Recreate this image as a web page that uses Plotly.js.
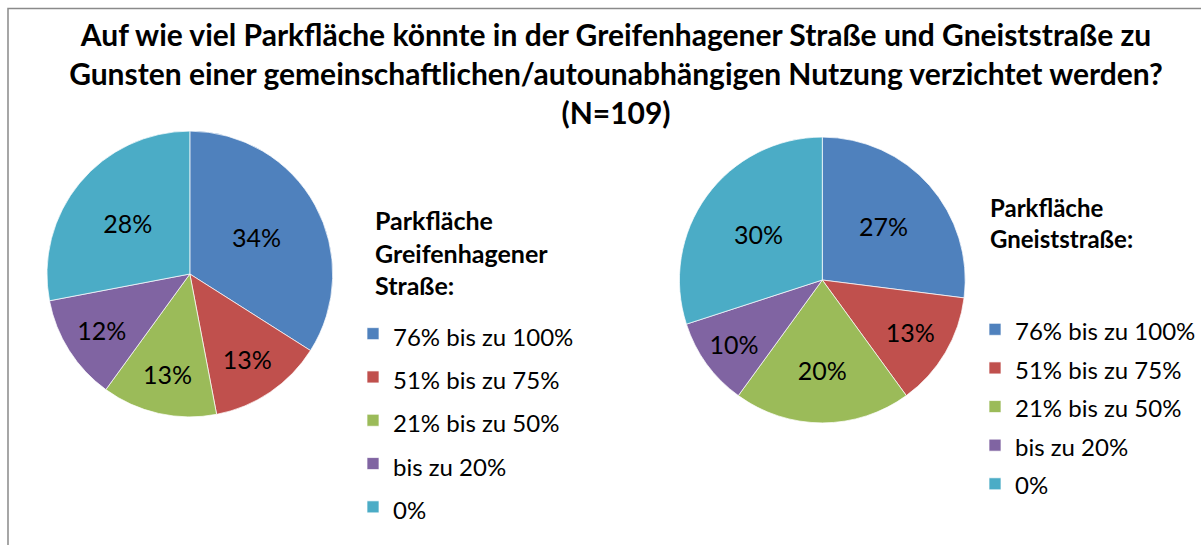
<!DOCTYPE html>
<html>
<head>
<meta charset="utf-8">
<script src="https://cdn.plot.ly/plotly-3.0.1.min.js"></script>
<style>html,body{margin:0;padding:0;background:#fff;}#chart{width:1201px;height:545px;}</style>
</head>
<body>
<div id="chart"></div>
<script>
// ---- data ----
const categories = ["76% bis zu 100%", "51% bis zu 75%", "21% bis zu 50%", "bis zu 20%", "0%"];
const greifenhagenerValues = [34, 13, 13, 12, 28];
const gneistValues = [27, 13, 20, 10, 30];
const sliceColors = ["#4F81BD", "#C0504D", "#9BBB59", "#8064A2", "#4BACC6"];
const chartTitle = "Auf wie viel Parkfläche könnte in der Greifenhagener Straße und Gneiststraße zu<br>Gunsten einer gemeinschaftlichen/autounabhängigen Nutzung verzichtet werden?<br>(N=109)";
const leftLegendTitle = "Parkfläche<br>Greifenhagener<br>Straße:";
const rightLegendTitle = "Parkfläche<br>Gneiststraße:";

const FONT = "Lato, 'DejaVu Sans', sans-serif";
const W = 1201, H = 545;
const px = v => v / W;
const py = v => 1 - v / H;

function labelsFor(fs) {
  return categories.map(c => '<span style="font-size:' + fs + 'px">' + c + '</span>');
}

const common = {
  type: 'pie',
  sort: false,
  direction: 'clockwise',
  rotation: 0,
  texttemplate: '%{value}%',
  textposition: 'inside',
  insidetextorientation: 'horizontal',
  textfont: {family: FONT, size: 25, color: '#000'},
  marker: {colors: sliceColors, line: {color: 'rgba(255,255,255,0.7)', width: 1}},
  hoverinfo: 'label+value',
  automargin: false
};

const traces = [
  Object.assign({}, common, {
    labels: labelsFor(24),
    values: greifenhagenerValues,
    domain: {x: [px(47), px(333)], y: [py(417), py(131)]},
    legend: 'legend',
    legendgroup: 'greifenhagener'
  }),
  Object.assign({}, common, {
    labels: labelsFor(24),
    values: gneistValues,
    domain: {x: [px(680), px(966)], y: [py(423), py(137)]},
    legend: 'legend2',
    legendgroup: 'gneist'
  })
];

const layout = {
  width: W, height: H,
  margin: {l: 0, r: 0, t: 0, b: 0},
  paper_bgcolor: '#fff',
  plot_bgcolor: '#fff',
  font: {family: FONT, color: '#000'},
  title: {
    text: chartTitle,
    font: {family: FONT, size: 30, color: '#000', weight: 'bold'},
    x: px(616), xanchor: 'center',
    y: py(46), yanchor: 'top', yref: 'container'
  },
  uniformtext: {mode: 'show', minsize: 25},
  legend: {
    x: px(353), y: py(307), xanchor: 'left', yanchor: 'top',
    font: {family: FONT, size: 31, color: '#000'},
    bgcolor: 'rgba(0,0,0,0)', borderwidth: 0, itemclick: false, itemdoubleclick: false
  },
  legend2: {
    x: px(976), y: py(305), xanchor: 'left', yanchor: 'top',
    font: {family: FONT, size: 27.4, color: '#000'},
    bgcolor: 'rgba(0,0,0,0)', borderwidth: 0, itemclick: false, itemdoubleclick: false
  },
  annotations: [
    {text: leftLegendTitle, xref: 'paper', yref: 'paper', x: px(373), y: py(203), xanchor: 'left', yanchor: 'top',
     align: 'left', showarrow: false, font: {family: FONT, size: 25, color: '#000', weight: 'bold'}},
    {text: rightLegendTitle, xref: 'paper', yref: 'paper', x: px(989), y: py(191), xanchor: 'left', yanchor: 'top',
     align: 'left', showarrow: false, font: {family: FONT, size: 24, color: '#000', weight: 'bold'}}
  ],
  shapes: [
    {type: 'rect', xref: 'paper', yref: 'paper', x0: px(8), x1: px(1210), y0: py(560), y1: py(8.5),
     line: {color: '#8a8a8a', width: 1.5}, fillcolor: 'rgba(0,0,0,0)', layer: 'below'}
  ],
  showlegend: true
};

Plotly.newPlot('chart', traces, layout, {displayModeBar: false, staticPlot: true});
</script>
</body>
</html>
